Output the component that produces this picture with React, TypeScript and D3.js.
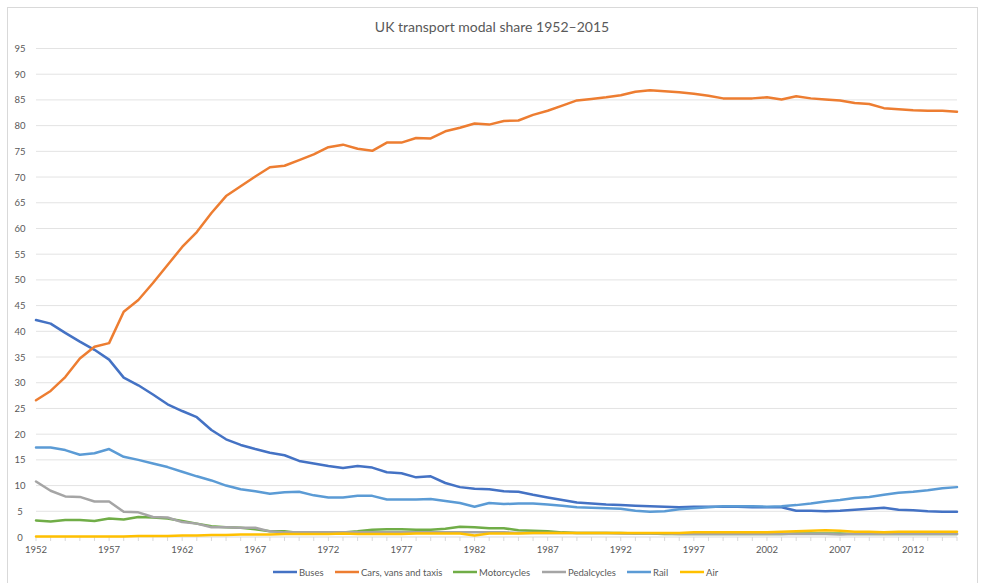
import React from "react";
import * as d3 from "d3";

const years: number[] = d3.range(1952, 2016);
const seriesNames = ["Buses", "Cars, vans and taxis", "Motorcycles", "Pedalcycles", "Rail", "Air"];
const colors = ["#4472C4", "#ED7D31", "#70AD47", "#A5A5A5", "#5B9BD5", "#FFC000"];

const buses = [42.2, 41.5, 39.7, 38.0, 36.4, 34.5, 31.0, 29.5, 27.7, 25.8, 24.5, 23.3, 20.8, 19.0, 17.9, 17.1, 16.4, 15.9, 14.8, 14.3,
  13.8, 13.4, 13.8, 13.5, 12.6, 12.4, 11.6, 11.8, 10.5, 9.7, 9.4, 9.3, 8.9, 8.8, 8.2, 7.7, 7.2, 6.7, 6.5, 6.3,
  6.2, 6.1, 6.0, 5.9, 5.8, 5.9, 5.9, 5.9, 5.9, 5.8, 5.8, 5.8, 5.1, 5.1, 5.0, 5.1, 5.3, 5.5, 5.7, 5.3, 5.2, 5.0, 4.9, 4.9];
const cars = [26.6, 28.4, 31.1, 34.7, 37.0, 37.7, 43.8, 46.1, 49.4, 52.9, 56.4, 59.3, 63.0, 66.3, 68.2, 70.1, 71.9, 72.2, 73.3, 74.4,
  75.8, 76.3, 75.5, 75.1, 76.7, 76.7, 77.6, 77.5, 78.9, 79.6, 80.4, 80.2, 80.9, 81.0, 82.1, 82.9, 83.9, 84.9, 85.2, 85.5,
  85.9, 86.6, 86.9, 86.7, 86.5, 86.2, 85.8, 85.3, 85.3, 85.3, 85.5, 85.1, 85.7, 85.3, 85.1, 84.9, 84.4, 84.2, 83.4, 83.2, 83.0, 82.9, 82.9, 82.7];
const motorcycles = [3.2, 3.0, 3.3, 3.3, 3.1, 3.6, 3.4, 3.9, 3.8, 3.6, 3.1, 2.6, 2.1, 1.9, 1.8, 1.5, 1.1, 1.1, 0.8, 0.8,
  0.8, 0.9, 1.1, 1.4, 1.5, 1.5, 1.4, 1.4, 1.6, 2.0, 1.9, 1.7, 1.7, 1.3, 1.2, 1.1, 0.9, 0.8, 0.8, 0.8,
  0.8, 0.7, 0.7, 0.6, 0.6, 0.6, 0.6, 0.6, 0.6, 0.6, 0.6, 0.6, 0.7, 0.7, 0.7, 0.7, 0.6, 0.6, 0.6, 0.6, 0.6, 0.6, 0.6, 0.6];
const pedalcycles = [10.8, 9.0, 7.9, 7.8, 6.9, 6.9, 4.9, 4.8, 3.9, 3.8, 2.9, 2.6, 1.9, 1.9, 1.8, 1.8, 1.1, 0.9, 0.9, 0.9,
  0.9, 0.9, 0.9, 0.9, 0.9, 0.9, 0.9, 0.9, 0.9, 0.9, 0.9, 0.9, 0.9, 0.8, 0.8, 0.8, 0.8, 0.8, 0.8, 0.8,
  0.7, 0.7, 0.7, 0.7, 0.6, 0.6, 0.6, 0.6, 0.6, 0.6, 0.6, 0.6, 0.6, 0.6, 0.6, 0.5, 0.6, 0.6, 0.6, 0.6, 0.6, 0.6, 0.6, 0.6];
const rail = [17.4, 17.4, 16.9, 16.0, 16.3, 17.1, 15.6, 15.0, 14.3, 13.6, 12.7, 11.8, 11.0, 10.0, 9.3, 8.9, 8.4, 8.7, 8.8, 8.1,
  7.7, 7.7, 8.0, 8.0, 7.3, 7.3, 7.3, 7.4, 7.0, 6.6, 5.9, 6.6, 6.4, 6.5, 6.5, 6.3, 6.1, 5.8, 5.7, 5.6,
  5.5, 5.1, 4.9, 5.0, 5.4, 5.6, 5.8, 6.0, 6.0, 6.0, 5.9, 6.0, 6.2, 6.5, 6.9, 7.2, 7.6, 7.8, 8.2, 8.6, 8.8, 9.1, 9.5, 9.7];
const air = [0.1, 0.1, 0.1, 0.1, 0.1, 0.1, 0.1, 0.2, 0.2, 0.2, 0.3, 0.3, 0.4, 0.4, 0.5, 0.5, 0.5, 0.6, 0.6, 0.6,
  0.6, 0.7, 0.6, 0.6, 0.6, 0.6, 0.7, 0.7, 0.7, 0.7, 0.3, 0.7, 0.7, 0.7, 0.8, 0.8, 0.8, 0.8, 0.8, 0.8,
  0.8, 0.8, 0.8, 0.8, 0.8, 0.9, 0.9, 0.9, 0.9, 0.9, 0.9, 1.0, 1.1, 1.2, 1.3, 1.2, 1.0, 1.0, 0.9, 1.0, 1.0, 1.0, 1.0, 1.0];
const seriesValues = [buses, cars, motorcycles, pedalcycles, rail, air];
const yTicks = d3.range(0, 100, 5);
const xLabelYears = years.filter((y) => (y - 1952) % 5 === 0);
const title = "UK transport modal share 1952\u20132015";

const W = 984, H = 583;
const margin = { left: 36, right: 27, top: 48.5, bottom: 46 };
const font = "Lato, 'Open Sans', sans-serif";

export default function App() {
  const x = d3.scaleLinear().domain([1952, 2015]).range([margin.left, W - margin.right]);
  const y = d3.scaleLinear().domain([0, 95]).range([H - margin.bottom, margin.top]);
  const line = d3.line<number>().x((_, i) => x(years[i])).y((d) => y(d));
  const legendX = [273, 335, 453, 542, 627, 680];
  const legendY = 572;
  return (
    <svg width={W} height={H} style={{ position: "absolute", left: 0, top: 0, background: "#fff" }} fontFamily={font}>
      <rect x={7.5} y={7.5} width={970} height={600} fill="#fff" stroke="#d9d9d9" />
      <text x={492} y={32} textAnchor="middle" fontSize={14} fill="#595959">{title}</text>
      {yTicks.map((t) => (
        <g key={t}>
          {t > 0 && <line x1={x(1952)} x2={x(2015)} y1={y(t)} y2={y(t)} stroke="#e3e3e3" strokeWidth={1} />}
          <text x={20} y={y(t) + 3.5} textAnchor="middle" fontSize={9.5} fill="#595959">{t}</text>
        </g>
      ))}
      <line x1={x(1952)} x2={x(2015)} y1={y(0)} y2={y(0)} stroke="#d9d9d9" />
      {years.map((yr) => (
        <line key={yr} x1={x(yr)} x2={x(yr)} y1={y(0)} y2={y(0) + 4} stroke="#d9d9d9" />
      ))}
      {xLabelYears.map((yr) => (
        <text key={yr} x={x(yr)} y={y(0) + 16} textAnchor="middle" fontSize={9.5} fill="#595959">{yr}</text>
      ))}
      {seriesValues.map((vals, i) => (
        <path key={seriesNames[i]} d={line(vals) || ""} fill="none" stroke={colors[i]} strokeWidth={2.5} strokeLinejoin="round" strokeLinecap="round" />
      ))}
      {seriesNames.map((name, i) => (
        <g key={name}>
          <line x1={legendX[i]} x2={legendX[i] + 24} y1={legendY} y2={legendY} stroke={colors[i]} strokeWidth={2.5} />
          <text x={legendX[i] + 26} y={legendY + 3.5} fontSize={9.5} fill="#595959">{name}</text>
        </g>
      ))}
    </svg>
  );
}
